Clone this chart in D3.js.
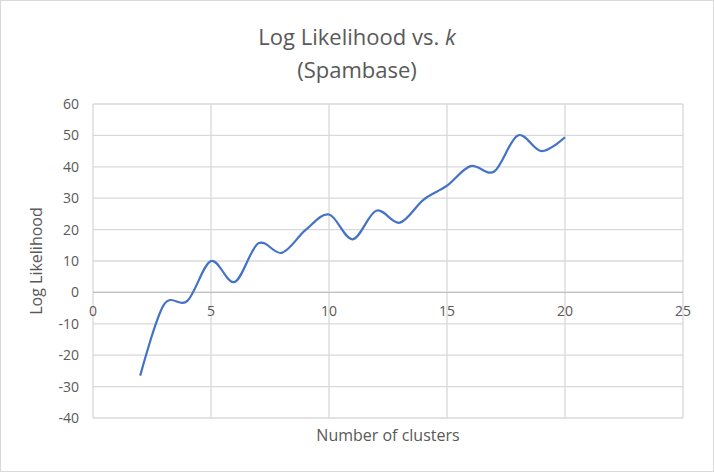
<!DOCTYPE html>
<html>
<head>
<meta charset="utf-8">
<script src="https://cdn.jsdelivr.net/npm/d3@7"></script>
<style>
  body { margin: 0; background: #fff; }
  text { font-family: "Open Sans", sans-serif; fill: #595959; }
</style>
</head>
<body>
<svg id="chart" width="714" height="472"></svg>
<script>
const clusters = [2, 3, 4, 5, 6, 7, 8, 9, 10, 11, 12, 13, 14, 15, 16, 17, 18, 19, 20];
const logLik = [-26.5, -4, -2.7, 10, 3.3, 15.6, 12.6, 19.8, 24.8, 16.9, 26, 22.2, 29.5, 34, 40.2, 38.5, 50, 45, 49.4];
const xTicks = [0, 5, 10, 15, 20, 25];
const yTicks = [-40, -30, -20, -10, 0, 10, 20, 30, 40, 50, 60];

const svg = d3.select('#chart');
const m = { left: 93, right: 683, top: 104, bottom: 418 };

svg.append('rect')
  .attr('x', 0.5).attr('y', 0.5).attr('width', 713).attr('height', 471)
  .attr('fill', '#fff').attr('stroke', '#d9d9d9');

const x = d3.scaleLinear().domain([0, 25]).range([m.left, m.right]);
const y = d3.scaleLinear().domain([-40, 60]).range([m.bottom, m.top]);

// gridlines
svg.append('g').selectAll('line').data(yTicks).join('line')
  .attr('x1', m.left).attr('x2', m.right)
  .attr('y1', d => y(d)).attr('y2', d => y(d))
  .attr('stroke', '#d9d9d9').attr('stroke-width', 1.3);
svg.append('g').selectAll('line').data(xTicks).join('line')
  .attr('x1', d => x(d)).attr('x2', d => x(d))
  .attr('y1', m.top).attr('y2', m.bottom)
  .attr('stroke', '#d9d9d9').attr('stroke-width', 1.3);
// zero axis line
svg.append('line')
  .attr('x1', m.left).attr('x2', m.right)
  .attr('y1', y(0)).attr('y2', y(0))
  .attr('stroke', '#bfbfbf').attr('stroke-width', 1.3);

// tick labels
svg.append('g').selectAll('text').data(yTicks).join('text')
  .attr('x', m.left - 14).attr('y', d => y(d)).attr('dy', '0.35em')
  .attr('text-anchor', 'end').attr('font-size', 14).text(d => d);
svg.append('g').selectAll('text').data(xTicks).join('text')
  .attr('x', d => x(d)).attr('y', y(0) + 24)
  .attr('text-anchor', 'middle').attr('font-size', 14).text(d => d);

// line
const line = d3.line()
  .x((d, i) => x(clusters[i]))
  .y(d => y(d))
  .curve(d3.curveCatmullRom.alpha(0));
svg.append('path').datum(logLik)
  .attr('d', line).attr('fill', 'none')
  .attr('stroke', '#4472c4').attr('stroke-width', 2.2);

// titles
const title = svg.append('text').attr('x', 357).attr('y', 45)
  .attr('text-anchor', 'middle').attr('font-size', 22);
title.append('tspan').text('Log Likelihood vs. ');
title.append('tspan').attr('font-style', 'italic').text('k');
svg.append('text').attr('x', 357).attr('y', 78)
  .attr('text-anchor', 'middle').attr('font-size', 22).text('(Spambase)');

svg.append('text').attr('x', 388).attr('y', 441)
  .attr('text-anchor', 'middle').attr('font-size', 16).text('Number of clusters');
svg.append('text')
  .attr('transform', `translate(42,${(m.top + m.bottom) / 2}) rotate(-90)`)
  .attr('text-anchor', 'middle').attr('font-size', 16).text('Log Likelihood');
</script>
</body>
</html>
